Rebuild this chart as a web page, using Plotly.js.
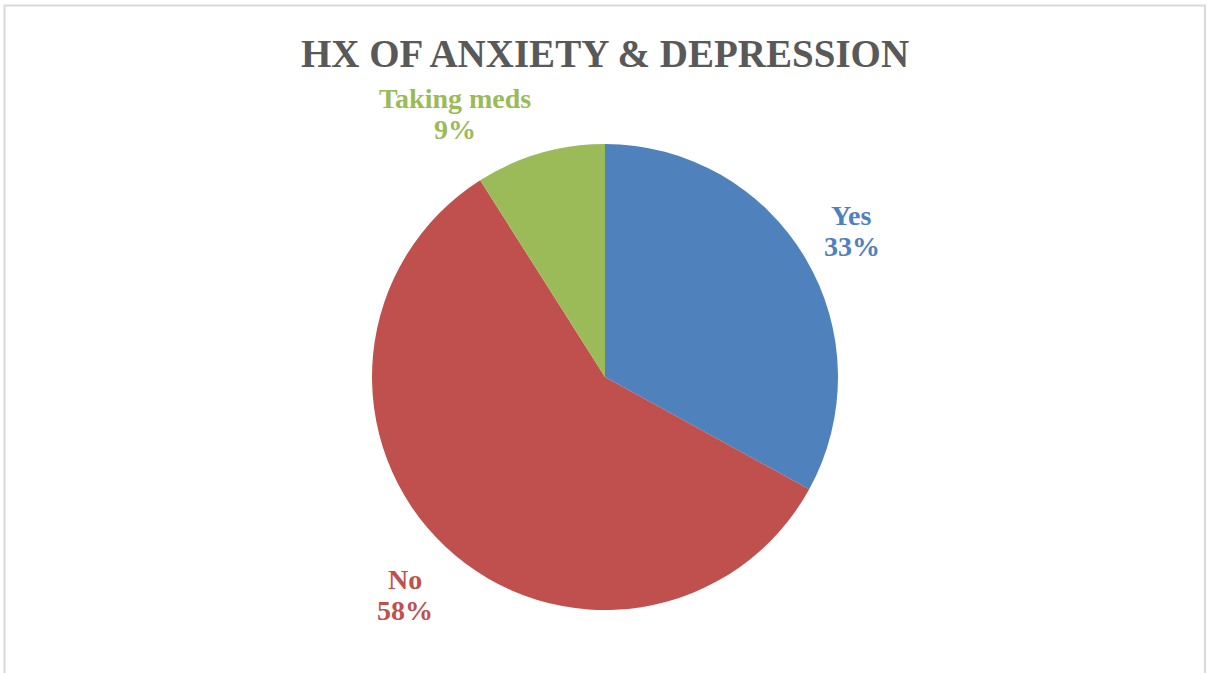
<!DOCTYPE html>
<html>
<head>
<meta charset="utf-8">
<script src="https://cdn.plot.ly/plotly-3.0.1.min.js"></script>
<style>html,body{margin:0;padding:0;background:#fff;}#chart{width:1210px;height:673px;}</style>
</head>
<body>
<div id="chart"></div>
<script>
const categories = ["Yes", "No", "Taking meds"];
const values = [33, 58, 9];
const sliceColors = ["#4F81BD", "#C0504D", "#9BBB59"];

const W = 1210, H = 673;
const cx = 605, cy = 377, r = 233;
const labelDist = 290;
const labelNudge = [[-3, 2], [-1, 7], [-69, 15]];
const lineGap = 15.5;
const labelFont = "Liberation Serif, DejaVu Serif, serif";

const trace = {
  type: "pie",
  labels: categories,
  values: values,
  sort: false,
  direction: "clockwise",
  rotation: 0,
  marker: {colors: sliceColors, line: {color: "#ffffff", width: 0}},
  textinfo: "none",
  hoverinfo: "label+percent",
  showlegend: false,
  domain: {x: [(cx - r) / W, (cx + r) / W], y: [(H - cy - r) / H, (H - cy + r) / H]},
  automargin: false
};

const total = values.reduce((a, b) => a + b, 0);
const annotations = [];
let cum = 0;
values.forEach((v, i) => {
  const theta = (cum + v / 2) / total * 2 * Math.PI;
  cum += v;
  const px = cx + labelDist * Math.sin(theta) + labelNudge[i][0];
  const py = cy - labelDist * Math.cos(theta) + labelNudge[i][1];
  const pct = Math.round(v / total * 100) + "%";
  [[categories[i], py - lineGap], [pct, py + lineGap]].forEach(([t, y]) => {
    annotations.push({
      text: "<b>" + t + "</b>", showarrow: false,
      xref: "paper", yref: "paper", x: px / W, y: 1 - y / H,
      xanchor: "center", yanchor: "middle",
      font: {family: labelFont, size: 28, color: sliceColors[i]}
    });
  });
});

const layout = {
  width: W, height: H,
  margin: {l: 0, r: 0, t: 0, b: 0},
  paper_bgcolor: "#ffffff",
  title: {
    text: "<b>HX OF ANXIETY &amp; DEPRESSION</b>",
    font: {family: labelFont, size: 39, color: "#595959"},
    x: 0.5, xanchor: "center", xref: "paper",
    y: 1 - 53 / H, yanchor: "middle", yref: "container"
  },
  annotations: annotations,
  shapes: [{
    type: "rect", xref: "paper", yref: "paper",
    x0: 4.5 / W, x1: 1205 / W, y0: -0.05, y1: 1 - 5.5 / H,
    line: {color: "#D9D9D9", width: 2}, fillcolor: "rgba(0,0,0,0)"
  }]
};

Plotly.newPlot("chart", [trace], layout, {displayModeBar: false, staticPlot: true});
</script>
</body>
</html>
